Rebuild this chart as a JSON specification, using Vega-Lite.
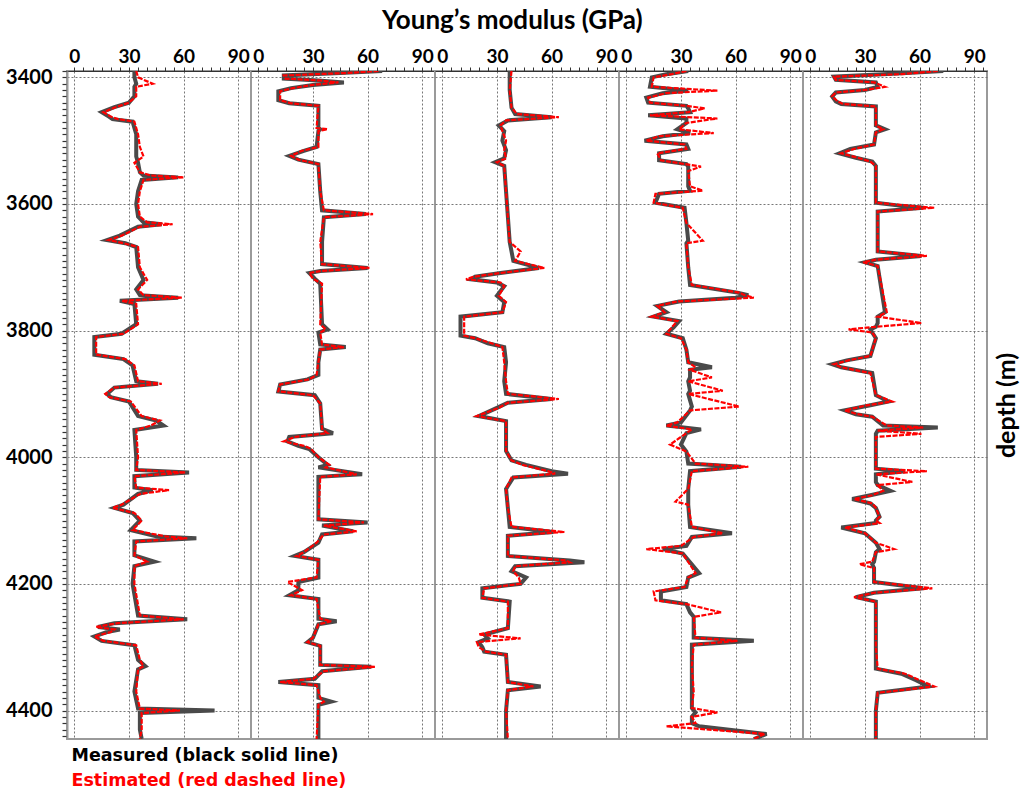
{
"$schema":"https://vega.github.io/schema/vega-lite/v6.json",
"padding":{"left":4,"top":8,"right":2,"bottom":2},
"background":"white",
"title":{"text":"Young’s modulus (GPa)","anchor":"middle","font":"Lato","fontSize":26,"fontWeight":"bold","color":"#000","offset":12},
"config":{"view":{"stroke":"#9a9a9a","strokeWidth":2},"font":"Lato"},
"spacing":0,
"bounds":"flush",
"data":{"values":[
{"w":1,"d":3390,"m":33,"e":34},{"w":1,"d":3400,"m":33,"e":35},{"w":1,"d":3410,"m":34,"e":43},{"w":1,"d":3415,"m":33,"e":34},{"w":1,"d":3430,"m":33,"e":34},{"w":1,"d":3440,"m":30,"e":30},{"w":1,"d":3447,"m":22,"e":23},{"w":1,"d":3455,"m":15,"e":16},{"w":1,"d":3462,"m":19,"e":20},{"w":1,"d":3466,"m":21,"e":24},{"w":1,"d":3470,"m":32,"e":33},{"w":1,"d":3490,"m":34,"e":35},{"w":1,"d":3510,"m":34,"e":36},{"w":1,"d":3525,"m":34,"e":38},{"w":1,"d":3535,"m":35,"e":33},{"w":1,"d":3550,"m":36,"e":36},{"w":1,"d":3555,"m":38,"e":42},{"w":1,"d":3558,"m":57,"e":60},{"w":1,"d":3562,"m":37,"e":38},{"w":1,"d":3580,"m":35,"e":36},{"w":1,"d":3600,"m":34,"e":35},{"w":1,"d":3620,"m":35,"e":36},{"w":1,"d":3629,"m":38,"e":40},{"w":1,"d":3632,"m":48,"e":54},{"w":1,"d":3636,"m":35,"e":36},{"w":1,"d":3650,"m":25,"e":26},{"w":1,"d":3657,"m":18,"e":19},{"w":1,"d":3662,"m":28,"e":27},{"w":1,"d":3668,"m":34,"e":35},{"w":1,"d":3700,"m":35,"e":36},{"w":1,"d":3720,"m":38,"e":40},{"w":1,"d":3735,"m":34,"e":35},{"w":1,"d":3744,"m":36,"e":38},{"w":1,"d":3748,"m":57,"e":59},{"w":1,"d":3753,"m":25,"e":26},{"w":1,"d":3758,"m":33,"e":34},{"w":1,"d":3790,"m":34,"e":35},{"w":1,"d":3805,"m":26,"e":27},{"w":1,"d":3810,"m":11,"e":12},{"w":1,"d":3838,"m":11,"e":12},{"w":1,"d":3845,"m":27,"e":28},{"w":1,"d":3855,"m":32,"e":33},{"w":1,"d":3880,"m":34,"e":35},{"w":1,"d":3884,"m":46,"e":48},{"w":1,"d":3890,"m":22,"e":22},{"w":1,"d":3900,"m":18,"e":17},{"w":1,"d":3905,"m":20,"e":19},{"w":1,"d":3912,"m":30,"e":31},{"w":1,"d":3935,"m":35,"e":37},{"w":1,"d":3942,"m":45,"e":47},{"w":1,"d":3950,"m":49,"e":42},{"w":1,"d":3957,"m":33,"e":34},{"w":1,"d":4000,"m":34,"e":35},{"w":1,"d":4020,"m":34,"e":34},{"w":1,"d":4024,"m":63,"e":61},{"w":1,"d":4030,"m":33,"e":33},{"w":1,"d":4048,"m":33,"e":34},{"w":1,"d":4052,"m":43,"e":52},{"w":1,"d":4058,"m":35,"e":36},{"w":1,"d":4075,"m":27,"e":26},{"w":1,"d":4080,"m":22,"e":21},{"w":1,"d":4088,"m":32,"e":33},{"w":1,"d":4100,"m":36,"e":37},{"w":1,"d":4115,"m":31,"e":32},{"w":1,"d":4125,"m":45,"e":50},{"w":1,"d":4128,"m":67,"e":62},{"w":1,"d":4133,"m":33,"e":34},{"w":1,"d":4155,"m":33,"e":33},{"w":1,"d":4165,"m":44,"e":40},{"w":1,"d":4172,"m":33,"e":33},{"w":1,"d":4200,"m":32,"e":33},{"w":1,"d":4250,"m":35,"e":36},{"w":1,"d":4256,"m":62,"e":60},{"w":1,"d":4262,"m":22,"e":24},{"w":1,"d":4268,"m":13,"e":12},{"w":1,"d":4272,"m":25,"e":22},{"w":1,"d":4276,"m":18,"e":20},{"w":1,"d":4283,"m":11,"e":11},{"w":1,"d":4290,"m":15,"e":16},{"w":1,"d":4297,"m":33,"e":34},{"w":1,"d":4320,"m":35,"e":36},{"w":1,"d":4330,"m":39,"e":38},{"w":1,"d":4335,"m":35,"e":35},{"w":1,"d":4370,"m":33,"e":34},{"w":1,"d":4397,"m":35,"e":36},{"w":1,"d":4400,"m":77,"e":58},{"w":1,"d":4404,"m":36,"e":37},{"w":1,"d":4430,"m":36,"e":37},{"w":1,"d":4445,"m":37,"e":36},
{"w":2,"d":3390,"m":68,"e":66},{"w":2,"d":3393,"m":45,"e":50},{"w":2,"d":3397,"m":14,"e":14},{"w":2,"d":3402,"m":14,"e":15},{"w":2,"d":3405,"m":33,"e":34},{"w":2,"d":3408,"m":47,"e":44},{"w":2,"d":3412,"m":30,"e":30},{"w":2,"d":3417,"m":18,"e":19},{"w":2,"d":3422,"m":11,"e":12},{"w":2,"d":3436,"m":11,"e":12},{"w":2,"d":3441,"m":17,"e":18},{"w":2,"d":3445,"m":33,"e":33},{"w":2,"d":3480,"m":33,"e":32},{"w":2,"d":3482,"m":34,"e":38},{"w":2,"d":3485,"m":33,"e":33},{"w":2,"d":3510,"m":32,"e":33},{"w":2,"d":3516,"m":25,"e":24},{"w":2,"d":3524,"m":17,"e":18},{"w":2,"d":3530,"m":22,"e":22},{"w":2,"d":3537,"m":33,"e":33},{"w":2,"d":3580,"m":34,"e":34},{"w":2,"d":3610,"m":35,"e":36},{"w":2,"d":3616,"m":59,"e":63},{"w":2,"d":3621,"m":36,"e":36},{"w":2,"d":3660,"m":35,"e":34},{"w":2,"d":3695,"m":35,"e":35},{"w":2,"d":3701,"m":60,"e":61},{"w":2,"d":3706,"m":34,"e":34},{"w":2,"d":3709,"m":28,"e":28},{"w":2,"d":3718,"m":31,"e":30},{"w":2,"d":3726,"m":34,"e":35},{"w":2,"d":3790,"m":35,"e":34},{"w":2,"d":3798,"m":38,"e":37},{"w":2,"d":3803,"m":33,"e":34},{"w":2,"d":3822,"m":34,"e":35},{"w":2,"d":3826,"m":48,"e":47},{"w":2,"d":3830,"m":34,"e":34},{"w":2,"d":3850,"m":33,"e":33},{"w":2,"d":3870,"m":33,"e":32},{"w":2,"d":3877,"m":27,"e":28},{"w":2,"d":3885,"m":12,"e":12},{"w":2,"d":3896,"m":11,"e":11},{"w":2,"d":3902,"m":31,"e":30},{"w":2,"d":3915,"m":34,"e":34},{"w":2,"d":3955,"m":35,"e":35},{"w":2,"d":3962,"m":41,"e":38},{"w":2,"d":3968,"m":17,"e":20},{"w":2,"d":3975,"m":16,"e":14},{"w":2,"d":3982,"m":22,"e":25},{"w":2,"d":3987,"m":28,"e":29},{"w":2,"d":4000,"m":33,"e":33},{"w":2,"d":4012,"m":38,"e":39},{"w":2,"d":4016,"m":33,"e":37},{"w":2,"d":4027,"m":57,"e":54},{"w":2,"d":4031,"m":33,"e":34},{"w":2,"d":4098,"m":33,"e":33},{"w":2,"d":4103,"m":60,"e":58},{"w":2,"d":4108,"m":35,"e":36},{"w":2,"d":4117,"m":52,"e":54},{"w":2,"d":4122,"m":35,"e":36},{"w":2,"d":4135,"m":33,"e":32},{"w":2,"d":4150,"m":25,"e":25},{"w":2,"d":4156,"m":20,"e":21},{"w":2,"d":4162,"m":33,"e":33},{"w":2,"d":4190,"m":33,"e":32},{"w":2,"d":4197,"m":22,"e":16},{"w":2,"d":4210,"m":22,"e":24},{"w":2,"d":4218,"m":17,"e":18},{"w":2,"d":4224,"m":33,"e":32},{"w":2,"d":4255,"m":33,"e":34},{"w":2,"d":4259,"m":43,"e":40},{"w":2,"d":4264,"m":33,"e":33},{"w":2,"d":4285,"m":30,"e":30},{"w":2,"d":4292,"m":27,"e":27},{"w":2,"d":4298,"m":34,"e":34},{"w":2,"d":4328,"m":34,"e":34},{"w":2,"d":4331,"m":62,"e":64},{"w":2,"d":4338,"m":35,"e":36},{"w":2,"d":4350,"m":31,"e":30},{"w":2,"d":4355,"m":11,"e":12},{"w":2,"d":4360,"m":33,"e":32},{"w":2,"d":4380,"m":33,"e":34},{"w":2,"d":4386,"m":40,"e":36},{"w":2,"d":4391,"m":33,"e":33},{"w":2,"d":4445,"m":33,"e":32},
{"w":3,"d":3390,"m":37,"e":38},{"w":3,"d":3420,"m":37,"e":37},{"w":3,"d":3448,"m":38,"e":38},{"w":3,"d":3458,"m":40,"e":41},{"w":3,"d":3463,"m":60,"e":64},{"w":3,"d":3468,"m":36,"e":35},{"w":3,"d":3476,"m":31,"e":32},{"w":3,"d":3485,"m":34,"e":33},{"w":3,"d":3500,"m":33,"e":35},{"w":3,"d":3515,"m":35,"e":34},{"w":3,"d":3528,"m":34,"e":35},{"w":3,"d":3534,"m":29,"e":30},{"w":3,"d":3540,"m":34,"e":34},{"w":3,"d":3580,"m":35,"e":35},{"w":3,"d":3620,"m":36,"e":36},{"w":3,"d":3660,"m":37,"e":37},{"w":3,"d":3675,"m":38,"e":43},{"w":3,"d":3690,"m":39,"e":40},{"w":3,"d":3701,"m":53,"e":56},{"w":3,"d":3709,"m":32,"e":32},{"w":3,"d":3715,"m":18,"e":17},{"w":3,"d":3719,"m":16,"e":13},{"w":3,"d":3724,"m":30,"e":32},{"w":3,"d":3730,"m":34,"e":34},{"w":3,"d":3745,"m":30,"e":31},{"w":3,"d":3755,"m":34,"e":35},{"w":3,"d":3771,"m":33,"e":33},{"w":3,"d":3778,"m":10,"e":12},{"w":3,"d":3808,"m":10,"e":12},{"w":3,"d":3812,"m":18,"e":18},{"w":3,"d":3820,"m":25,"e":27},{"w":3,"d":3826,"m":34,"e":33},{"w":3,"d":3850,"m":35,"e":34},{"w":3,"d":3880,"m":34,"e":35},{"w":3,"d":3900,"m":35,"e":36},{"w":3,"d":3908,"m":60,"e":64},{"w":3,"d":3914,"m":36,"e":36},{"w":3,"d":3922,"m":30,"e":31},{"w":3,"d":3935,"m":20,"e":19},{"w":3,"d":3943,"m":35,"e":35},{"w":3,"d":3990,"m":35,"e":35},{"w":3,"d":4005,"m":38,"e":38},{"w":3,"d":4012,"m":46,"e":44},{"w":3,"d":4022,"m":60,"e":58},{"w":3,"d":4026,"m":69,"e":62},{"w":3,"d":4032,"m":39,"e":38},{"w":3,"d":4050,"m":35,"e":35},{"w":3,"d":4080,"m":36,"e":36},{"w":3,"d":4110,"m":37,"e":38},{"w":3,"d":4118,"m":61,"e":67},{"w":3,"d":4124,"m":36,"e":36},{"w":3,"d":4156,"m":36,"e":36},{"w":3,"d":4163,"m":70,"e":68},{"w":3,"d":4166,"m":78,"e":70},{"w":3,"d":4172,"m":40,"e":40},{"w":3,"d":4180,"m":38,"e":39},{"w":3,"d":4190,"m":46,"e":42},{"w":3,"d":4200,"m":43,"e":43},{"w":3,"d":4207,"m":22,"e":23},{"w":3,"d":4222,"m":22,"e":22},{"w":3,"d":4228,"m":37,"e":36},{"w":3,"d":4270,"m":36,"e":36},{"w":3,"d":4280,"m":23,"e":20},{"w":3,"d":4286,"m":25,"e":43},{"w":3,"d":4292,"m":20,"e":19},{"w":3,"d":4300,"m":22,"e":20},{"w":3,"d":4307,"m":23,"e":24},{"w":3,"d":4312,"m":35,"e":35},{"w":3,"d":4355,"m":36,"e":36},{"w":3,"d":4362,"m":54,"e":50},{"w":3,"d":4368,"m":36,"e":36},{"w":3,"d":4400,"m":35,"e":35},{"w":3,"d":4445,"m":35,"e":36},
{"w":4,"d":3390,"m":34,"e":33},{"w":4,"d":3395,"m":22,"e":25},{"w":4,"d":3400,"m":14,"e":15},{"w":4,"d":3415,"m":13,"e":14},{"w":4,"d":3421,"m":34,"e":50},{"w":4,"d":3425,"m":20,"e":22},{"w":4,"d":3432,"m":11,"e":12},{"w":4,"d":3440,"m":12,"e":13},{"w":4,"d":3445,"m":33,"e":33},{"w":4,"d":3449,"m":34,"e":43},{"w":4,"d":3455,"m":35,"e":34},{"w":4,"d":3460,"m":12,"e":13},{"w":4,"d":3465,"m":33,"e":50},{"w":4,"d":3472,"m":33,"e":33},{"w":4,"d":3482,"m":28,"e":29},{"w":4,"d":3488,"m":35,"e":48},{"w":4,"d":3493,"m":20,"e":18},{"w":4,"d":3500,"m":10,"e":11},{"w":4,"d":3506,"m":33,"e":32},{"w":4,"d":3513,"m":34,"e":33},{"w":4,"d":3520,"m":18,"e":17},{"w":4,"d":3531,"m":18,"e":19},{"w":4,"d":3537,"m":33,"e":32},{"w":4,"d":3541,"m":34,"e":41},{"w":4,"d":3548,"m":34,"e":34},{"w":4,"d":3572,"m":34,"e":35},{"w":4,"d":3579,"m":35,"e":42},{"w":4,"d":3584,"m":18,"e":16},{"w":4,"d":3598,"m":16,"e":15},{"w":4,"d":3606,"m":32,"e":31},{"w":4,"d":3630,"m":33,"e":33},{"w":4,"d":3658,"m":34,"e":42},{"w":4,"d":3662,"m":33,"e":33},{"w":4,"d":3700,"m":34,"e":34},{"w":4,"d":3728,"m":35,"e":36},{"w":4,"d":3740,"m":61,"e":62},{"w":4,"d":3744,"m":67,"e":65},{"w":4,"d":3748,"m":60,"e":70},{"w":4,"d":3754,"m":29,"e":28},{"w":4,"d":3761,"m":17,"e":17},{"w":4,"d":3771,"m":22,"e":21},{"w":4,"d":3778,"m":15,"e":14},{"w":4,"d":3785,"m":29,"e":28},{"w":4,"d":3795,"m":26,"e":25},{"w":4,"d":3805,"m":22,"e":22},{"w":4,"d":3812,"m":31,"e":30},{"w":4,"d":3830,"m":33,"e":33},{"w":4,"d":3850,"m":34,"e":34},{"w":4,"d":3858,"m":47,"e":38},{"w":4,"d":3862,"m":35,"e":35},{"w":4,"d":3874,"m":35,"e":47},{"w":4,"d":3880,"m":34,"e":34},{"w":4,"d":3895,"m":35,"e":53},{"w":4,"d":3900,"m":34,"e":34},{"w":4,"d":3920,"m":36,"e":62},{"w":4,"d":3926,"m":35,"e":35},{"w":4,"d":3945,"m":30,"e":28},{"w":4,"d":3950,"m":22,"e":22},{"w":4,"d":3956,"m":41,"e":36},{"w":4,"d":3962,"m":33,"e":33},{"w":4,"d":3980,"m":30,"e":24},{"w":4,"d":3991,"m":33,"e":33},{"w":4,"d":4010,"m":34,"e":38},{"w":4,"d":4015,"m":63,"e":67},{"w":4,"d":4022,"m":35,"e":36},{"w":4,"d":4050,"m":34,"e":34},{"w":4,"d":4070,"m":34,"e":27},{"w":4,"d":4075,"m":34,"e":34},{"w":4,"d":4110,"m":35,"e":36},{"w":4,"d":4120,"m":58,"e":53},{"w":4,"d":4126,"m":36,"e":37},{"w":4,"d":4140,"m":33,"e":30},{"w":4,"d":4145,"m":20,"e":11},{"w":4,"d":4152,"m":31,"e":31},{"w":4,"d":4183,"m":40,"e":38},{"w":4,"d":4190,"m":34,"e":34},{"w":4,"d":4205,"m":33,"e":32},{"w":4,"d":4212,"m":19,"e":15},{"w":4,"d":4226,"m":19,"e":16},{"w":4,"d":4232,"m":33,"e":33},{"w":4,"d":4245,"m":35,"e":52},{"w":4,"d":4252,"m":37,"e":37},{"w":4,"d":4285,"m":37,"e":38},{"w":4,"d":4290,"m":70,"e":61},{"w":4,"d":4296,"m":36,"e":37},{"w":4,"d":4330,"m":36,"e":36},{"w":4,"d":4370,"m":36,"e":37},{"w":4,"d":4396,"m":36,"e":36},{"w":4,"d":4403,"m":38,"e":50},{"w":4,"d":4410,"m":36,"e":36},{"w":4,"d":4420,"m":36,"e":38},{"w":4,"d":4425,"m":40,"e":22},{"w":4,"d":4437,"m":77,"e":76},{"w":4,"d":4445,"m":70,"e":70},
{"w":5,"d":3390,"m":73,"e":70},{"w":5,"d":3395,"m":40,"e":50},{"w":5,"d":3399,"m":13,"e":13},{"w":5,"d":3404,"m":14,"e":14},{"w":5,"d":3408,"m":36,"e":35},{"w":5,"d":3415,"m":37,"e":41},{"w":5,"d":3420,"m":30,"e":30},{"w":5,"d":3424,"m":14,"e":14},{"w":5,"d":3430,"m":12,"e":12},{"w":5,"d":3438,"m":14,"e":15},{"w":5,"d":3442,"m":17,"e":18},{"w":5,"d":3446,"m":36,"e":36},{"w":5,"d":3476,"m":36,"e":36},{"w":5,"d":3482,"m":41,"e":40},{"w":5,"d":3487,"m":36,"e":36},{"w":5,"d":3506,"m":35,"e":35},{"w":5,"d":3513,"m":22,"e":24},{"w":5,"d":3520,"m":16,"e":17},{"w":5,"d":3527,"m":25,"e":26},{"w":5,"d":3533,"m":34,"e":33},{"w":5,"d":3540,"m":36,"e":36},{"w":5,"d":3598,"m":36,"e":36},{"w":5,"d":3603,"m":50,"e":55},{"w":5,"d":3606,"m":62,"e":68},{"w":5,"d":3612,"m":37,"e":37},{"w":5,"d":3640,"m":37,"e":37},{"w":5,"d":3675,"m":37,"e":37},{"w":5,"d":3682,"m":61,"e":64},{"w":5,"d":3688,"m":36,"e":36},{"w":5,"d":3692,"m":30,"e":29},{"w":5,"d":3698,"m":37,"e":37},{"w":5,"d":3771,"m":41,"e":42},{"w":5,"d":3778,"m":37,"e":37},{"w":5,"d":3788,"m":37,"e":61},{"w":5,"d":3794,"m":36,"e":36},{"w":5,"d":3798,"m":33,"e":21},{"w":5,"d":3803,"m":34,"e":34},{"w":5,"d":3812,"m":36,"e":36},{"w":5,"d":3840,"m":33,"e":33},{"w":5,"d":3847,"m":20,"e":21},{"w":5,"d":3853,"m":12,"e":13},{"w":5,"d":3858,"m":17,"e":17},{"w":5,"d":3867,"m":34,"e":33},{"w":5,"d":3902,"m":36,"e":36},{"w":5,"d":3912,"m":43,"e":45},{"w":5,"d":3918,"m":33,"e":31},{"w":5,"d":3926,"m":19,"e":19},{"w":5,"d":3932,"m":25,"e":26},{"w":5,"d":3936,"m":34,"e":34},{"w":5,"d":3950,"m":40,"e":42},{"w":5,"d":3953,"m":70,"e":62},{"w":5,"d":3958,"m":37,"e":37},{"w":5,"d":3963,"m":36,"e":61},{"w":5,"d":3968,"m":36,"e":36},{"w":5,"d":4018,"m":36,"e":36},{"w":5,"d":4022,"m":52,"e":64},{"w":5,"d":4027,"m":36,"e":36},{"w":5,"d":4039,"m":36,"e":56},{"w":5,"d":4044,"m":37,"e":37},{"w":5,"d":4053,"m":44,"e":40},{"w":5,"d":4060,"m":33,"e":34},{"w":5,"d":4066,"m":23,"e":24},{"w":5,"d":4073,"m":33,"e":34},{"w":5,"d":4080,"m":36,"e":36},{"w":5,"d":4094,"m":38,"e":38},{"w":5,"d":4100,"m":36,"e":36},{"w":5,"d":4104,"m":36,"e":38},{"w":5,"d":4111,"m":17,"e":19},{"w":5,"d":4120,"m":30,"e":30},{"w":5,"d":4135,"m":36,"e":36},{"w":5,"d":4145,"m":38,"e":46},{"w":5,"d":4150,"m":36,"e":36},{"w":5,"d":4165,"m":35,"e":34},{"w":5,"d":4169,"m":34,"e":27},{"w":5,"d":4175,"m":35,"e":35},{"w":5,"d":4197,"m":35,"e":35},{"w":5,"d":4207,"m":62,"e":67},{"w":5,"d":4214,"m":35,"e":35},{"w":5,"d":4221,"m":25,"e":24},{"w":5,"d":4228,"m":36,"e":36},{"w":5,"d":4300,"m":36,"e":36},{"w":5,"d":4334,"m":36,"e":37},{"w":5,"d":4342,"m":50,"e":52},{"w":5,"d":4352,"m":58,"e":60},{"w":5,"d":4362,"m":65,"e":68},{"w":5,"d":4372,"m":37,"e":37},{"w":5,"d":4400,"m":36,"e":36},{"w":5,"d":4445,"m":36,"e":36}
]},
"hconcat":[
{"width":184,"height":668,"transform":[{"filter":"datum.w==1"}],
 "encoding":{"y":{"field":"d","type":"quantitative","scale":{"domain":[3390,4445],"reverse":true,"nice":false,"zero":false},
   "axis":{"title":null,"tickCount":105,"format":"d","labelExpr":"datum.value % 200 === 0 ? datum.label : ''","labelOverlap":false,"labelFont":"Lato","labelFontSize":20,"labelFontWeight":"bold","labelColor":"#000","labelPadding":10,"tickSize":5,"tickColor":"#333","tickWidth":1.2,"domainColor":"#9a9a9a","domainWidth":2,"grid":true,"gridDash":[2,2],"gridColor":"#777","gridOpacity":{"condition":{"test":"datum.value % 200 === 0","value":1},"value":0}}},
  "order":{"field":"d","type":"quantitative"}},
 "layer":[
  {"mark":{"type":"line","strokeWidth":4,"clip":true},"encoding":{"x":{"field":"m","type":"quantitative","scale":{"domain":[-4,97],"nice":false,"zero":false},"axis":{"orient":"top","title":null,"tickCount":20,"labelExpr":"datum.value % 30 === 0 ? datum.label : ''","labelOverlap":false,"labelFlush":false,"labelFont":"Lato","labelFontSize":19,"labelFontWeight":"bold","labelColor":"#000","labelPadding":1,"tickSize":4,"tickColor":"#333","domainColor":"#333","grid":true,"gridDash":[2,2],"gridColor":"#777","gridOpacity":{"condition":{"test":"datum.value % 30 === 0","value":1},"value":0}}},
    "color":{"datum":"Measured (black solid line)","scale":{"domain":["Measured (black solid line)","Estimated  (red dashed line)"],"range":["#4a4a4a","#ff0000"]},
     "legend":{"orient":"none","legendX":-13,"legendY":676,"title":null,"symbolSize":0,"symbolOpacity":0,"symbolStrokeWidth":0,"labelOffset":0,"labelFont":"DejaVu Sans","labelFontSize":17.5,"labelFontWeight":"bold","rowPadding":6,"labelLimit":400,
      "encode":{"labels":{"update":{"fill":{"signal":"datum.label === 'Measured (black solid line)' ? '#000000' : '#ff0000'"}}}}}}}},
  {"mark":{"type":"line","strokeWidth":2.2,"strokeDash":[5,1.5],"clip":true},"encoding":{"x":{"field":"e","type":"quantitative","scale":{"domain":[-4,97],"nice":false,"zero":false}},"color":{"datum":"Estimated  (red dashed line)"}}}
 ]},
{"width":184,"height":668,"transform":[{"filter":"datum.w==2"}],
 "encoding":{"y":{"field":"d","type":"quantitative","scale":{"domain":[3390,4445],"reverse":true,"nice":false,"zero":false},
   "axis":{"title":null,"values":[3400,3600,3800,4000,4200,4400],"labels":false,"ticks":false,"domain":false,"grid":true,"gridDash":[2,2],"gridColor":"#777"}},
  "order":{"field":"d","type":"quantitative"}},
 "layer":[
  {"mark":{"type":"line","strokeWidth":4,"clip":true},"encoding":{"x":{"field":"m","type":"quantitative","scale":{"domain":[-4,97],"nice":false,"zero":false},"axis":{"orient":"top","title":null,"tickCount":20,"labelExpr":"datum.value % 30 === 0 ? datum.label : ''","labelOverlap":false,"labelFlush":false,"labelFont":"Lato","labelFontSize":19,"labelFontWeight":"bold","labelColor":"#000","labelPadding":1,"tickSize":4,"tickColor":"#333","domainColor":"#333","grid":true,"gridDash":[2,2],"gridColor":"#777","gridOpacity":{"condition":{"test":"datum.value % 30 === 0","value":1},"value":0}}},"color":{"datum":"Measured (black solid line)"}}},
  {"mark":{"type":"line","strokeWidth":2.2,"strokeDash":[5,1.5],"clip":true},"encoding":{"x":{"field":"e","type":"quantitative","scale":{"domain":[-4,97],"nice":false,"zero":false}},"color":{"datum":"Estimated  (red dashed line)"}}}
 ]},
{"width":184,"height":668,"transform":[{"filter":"datum.w==3"}],
 "encoding":{"y":{"field":"d","type":"quantitative","scale":{"domain":[3390,4445],"reverse":true,"nice":false,"zero":false},
   "axis":{"title":null,"values":[3400,3600,3800,4000,4200,4400],"labels":false,"ticks":false,"domain":false,"grid":true,"gridDash":[2,2],"gridColor":"#777"}},
  "order":{"field":"d","type":"quantitative"}},
 "layer":[
  {"mark":{"type":"line","strokeWidth":4,"clip":true},"encoding":{"x":{"field":"m","type":"quantitative","scale":{"domain":[-4,97],"nice":false,"zero":false},"axis":{"orient":"top","title":null,"tickCount":20,"labelExpr":"datum.value % 30 === 0 ? datum.label : ''","labelOverlap":false,"labelFlush":false,"labelFont":"Lato","labelFontSize":19,"labelFontWeight":"bold","labelColor":"#000","labelPadding":1,"tickSize":4,"tickColor":"#333","domainColor":"#333","grid":true,"gridDash":[2,2],"gridColor":"#777","gridOpacity":{"condition":{"test":"datum.value % 30 === 0","value":1},"value":0}}},"color":{"datum":"Measured (black solid line)"}}},
  {"mark":{"type":"line","strokeWidth":2.2,"strokeDash":[5,1.5],"clip":true},"encoding":{"x":{"field":"e","type":"quantitative","scale":{"domain":[-4,97],"nice":false,"zero":false}},"color":{"datum":"Estimated  (red dashed line)"}}}
 ]},
{"width":184,"height":668,"transform":[{"filter":"datum.w==4"}],
 "encoding":{"y":{"field":"d","type":"quantitative","scale":{"domain":[3390,4445],"reverse":true,"nice":false,"zero":false},
   "axis":{"title":null,"values":[3400,3600,3800,4000,4200,4400],"labels":false,"ticks":false,"domain":false,"grid":true,"gridDash":[2,2],"gridColor":"#777"}},
  "order":{"field":"d","type":"quantitative"}},
 "layer":[
  {"mark":{"type":"line","strokeWidth":4,"clip":true},"encoding":{"x":{"field":"m","type":"quantitative","scale":{"domain":[-4,97],"nice":false,"zero":false},"axis":{"orient":"top","title":null,"tickCount":20,"labelExpr":"datum.value % 30 === 0 ? datum.label : ''","labelOverlap":false,"labelFlush":false,"labelFont":"Lato","labelFontSize":19,"labelFontWeight":"bold","labelColor":"#000","labelPadding":1,"tickSize":4,"tickColor":"#333","domainColor":"#333","grid":true,"gridDash":[2,2],"gridColor":"#777","gridOpacity":{"condition":{"test":"datum.value % 30 === 0","value":1},"value":0}}},"color":{"datum":"Measured (black solid line)"}}},
  {"mark":{"type":"line","strokeWidth":2.2,"strokeDash":[5,1.5],"clip":true},"encoding":{"x":{"field":"e","type":"quantitative","scale":{"domain":[-4,97],"nice":false,"zero":false}},"color":{"datum":"Estimated  (red dashed line)"}}}
 ]},
{"width":184,"height":668,"transform":[{"filter":"datum.w==5"}],
 "encoding":{"y":{"field":"d","type":"quantitative","scale":{"domain":[3390,4445],"reverse":true,"nice":false,"zero":false},
   "axis":{"orient":"right","title":"depth (m)","titleAngle":270,"titleBaseline":"top","titleFont":"Lato","titleFontSize":25,"titleFontWeight":"bold","titleColor":"#000","titlePadding":7,"values":[3400,3600,3800,4000,4200,4400],"labels":false,"ticks":false,"domain":false,"grid":true,"gridDash":[2,2],"gridColor":"#777"}},
  "order":{"field":"d","type":"quantitative"}},
 "layer":[
  {"mark":{"type":"line","strokeWidth":4,"clip":true},"encoding":{"x":{"field":"m","type":"quantitative","scale":{"domain":[-4,97],"nice":false,"zero":false},"axis":{"orient":"top","title":null,"tickCount":20,"labelExpr":"datum.value % 30 === 0 ? datum.label : ''","labelOverlap":false,"labelFlush":false,"labelFont":"Lato","labelFontSize":19,"labelFontWeight":"bold","labelColor":"#000","labelPadding":1,"tickSize":4,"tickColor":"#333","domainColor":"#333","grid":true,"gridDash":[2,2],"gridColor":"#777","gridOpacity":{"condition":{"test":"datum.value % 30 === 0","value":1},"value":0}}},"color":{"datum":"Measured (black solid line)"}}},
  {"mark":{"type":"line","strokeWidth":2.2,"strokeDash":[5,1.5],"clip":true},"encoding":{"x":{"field":"e","type":"quantitative","scale":{"domain":[-4,97],"nice":false,"zero":false}},"color":{"datum":"Estimated  (red dashed line)"}}}
 ]}
]
}
